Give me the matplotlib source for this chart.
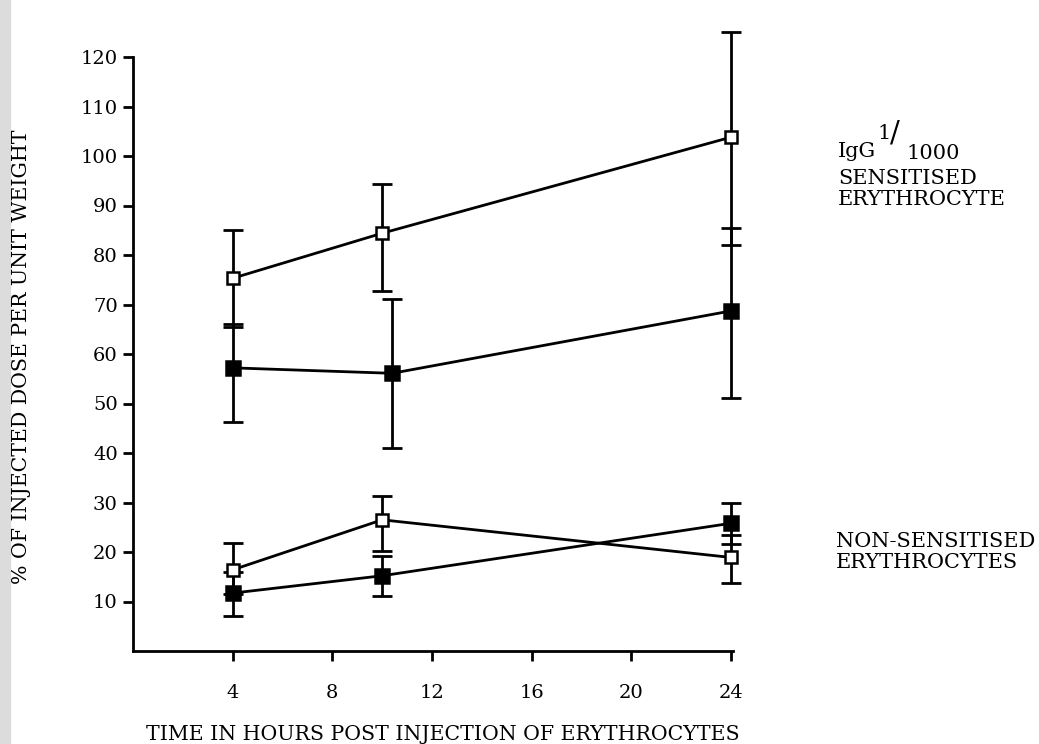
import matplotlib.pyplot as plt
import numpy as np
from matplotlib.patches import Rectangle

plt.rcParams['font.family'] = ['DejaVu Serif']

# time points (hours)
hours = [4, 10, 24]
hours_shift = [4, 10.4, 24]

# IgG 1/1000 sensitised erythrocytes
sens_open = [75.3, 84.4, 103.8]
sens_open_lo = [65.5, 72.8, 82.0]
sens_open_hi = [85.0, 94.3, 125.0]
sens_fill = [57.2, 56.1, 68.7]
sens_fill_lo = [46.3, 41.1, 51.2]
sens_fill_hi = [66.0, 71.2, 85.4]

# non-sensitised erythrocytes
non_open = [16.4, 26.5, 18.9]
non_open_lo = [11.5, 20.2, 13.8]
non_open_hi = [21.9, 31.3, 23.5]
non_fill = [11.7, 15.2, 25.8]
non_fill_lo = [7.1, 11.1, 21.6]
non_fill_hi = [16.0, 19.2, 30.0]

xticks = [4, 8, 12, 16, 20, 24]
yticks = list(range(10, 130, 10))

W, H = 1039, 744
fig = plt.figure(figsize=(W / 100, H / 100), dpi=100)
fig.patches.append(Rectangle((0, 0), 10 / W, 1, transform=fig.transFigure,
                             color='#dcdcdc', zorder=0))

x0, x24, y0, ypx = 133, 731, 651, 4.95
xmax, ymax = 25, 127
ax = fig.add_axes([x0 / W, (H - y0) / H, (x24 - x0) / 24 * xmax / W, ymax * ypx / H])
ax.set_xlim(0, xmax)
ax.set_ylim(0, ymax)


def draw(x, m, lo, hi, filled):
    m = np.array(m)
    err = [m - np.array(lo), np.array(hi) - m]
    ax.errorbar(x, m, yerr=err, fmt='none', ecolor='black', elinewidth=2,
                capsize=7, capthick=2, clip_on=False, zorder=2)
    ax.plot(x, m, color='black', lw=2, zorder=3, clip_on=False)
    ax.plot(x, m, ls='none', marker='s', ms=8.5 if not filled else 9.5,
            mfc='black' if filled else 'white', mec='black', mew=1.8,
            zorder=4, clip_on=False)


draw(hours, sens_open, sens_open_lo, sens_open_hi, False)
draw(hours_shift, sens_fill, sens_fill_lo, sens_fill_hi, True)
draw(hours, non_open, non_open_lo, non_open_hi, False)
draw(hours, non_fill, non_fill_lo, non_fill_hi, True)

for s in ['top', 'right']:
    ax.spines[s].set_visible(False)
ax.spines['left'].set_bounds(0, 120)
ax.spines['bottom'].set_bounds(0, 24.1)
for s in ['left', 'bottom']:
    ax.spines[s].set_linewidth(2)
ax.set_xticks(xticks)
ax.set_yticks(yticks)
ax.tick_params(axis='y', direction='out', length=7, width=2, pad=4, labelsize=14)
ax.tick_params(axis='x', direction='out', length=7, width=2, pad=17, labelsize=14)

fig.text(22 / W, 1 - 357 / H, '% OF INJECTED DOSE PER UNIT WEIGHT', rotation=90,
         ha='center', va='center', fontsize=14.8)
fig.text(443 / W, 1 - 735 / H, 'TIME IN HOURS POST INJECTION OF ERYTHROCYTES',
         ha='center', va='center', fontsize=14.8)

fs = 15
fig.text(838 / W, 1 - 157 / H, 'IgG', fontsize=fs, va='baseline')
fig.text(877 / W, 1 - 139 / H, '1', fontsize=fs, va='baseline')
fig.text(890 / W, 1 - 142 / H, '/', fontsize=fs + 6, va='baseline')
fig.text(906 / W, 1 - 159 / H, '1000', fontsize=fs, va='baseline')
fig.text(838 / W, 1 - 184 / H, 'SENSITISED', fontsize=fs, va='baseline')
fig.text(838 / W, 1 - 205 / H, 'ERYTHROCYTE', fontsize=fs, va='baseline')
fig.text(836 / W, 1 - 547 / H, 'NON-SENSITISED', fontsize=fs, va='baseline')
fig.text(836 / W, 1 - 568 / H, 'ERYTHROCYTES', fontsize=fs, va='baseline')

fig.savefig('out.png', dpi=100, facecolor='white')
